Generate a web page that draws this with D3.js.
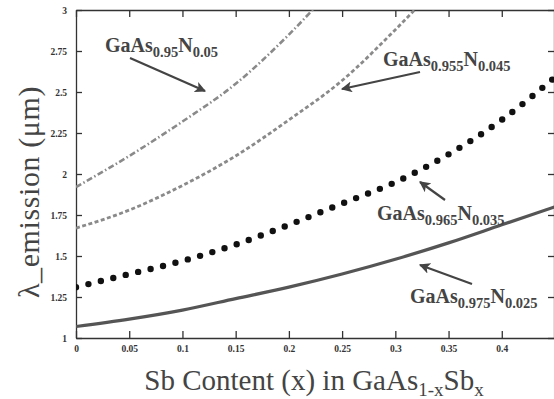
<!DOCTYPE html>
<html>
<head>
<meta charset="utf-8">
<script src="https://cdn.jsdelivr.net/npm/d3@7"></script>
<style>
  body { margin: 0; background: #fff; }
  svg { display: block; }
  .axis path, .axis line { stroke: #333; stroke-width: 1.3; }
  .axis text { font-family: "Liberation Serif", serif; font-size: 9.5px; font-weight: bold; fill: #333; }
</style>
</head>
<body>
<svg id="chart" width="554" height="399"></svg>
<script>
// Sb content (x) and emission wavelength (um)
const sbX      = [0, 0.05, 0.1, 0.15, 0.2, 0.25, 0.3, 0.35, 0.4, 0.45];
const n050     = [1.92, 2.11, 2.32, 2.55, 2.85, 3.2, null, null, null, null];
const n045     = [1.67, 1.78, 1.93, 2.11, 2.33, 2.57, 2.88, 3.22, null, null];
const n035     = [1.31, 1.39, 1.47, 1.57, 1.69, 1.82, 1.95, 2.12, 2.33, 2.59];
const n025     = [1.07, 1.115, 1.17, 1.24, 1.31, 1.39, 1.48, 1.58, 1.69, 1.80];
const xTicks   = [0, 0.05, 0.1, 0.15, 0.2, 0.25, 0.3, 0.35, 0.4];
const yTicks   = [1, 1.25, 1.5, 1.75, 2, 2.25, 2.5, 2.75, 3];
const yTickLabels = ["1", "1.25", "1.5", "1.75", "2", "2.25", "2.5", "2.75", "3"];

const pLeft = 76, pRight = 555, pTop = 10, pBottom = 338;

const svg = d3.select("#chart");
const x = d3.scaleLinear().domain([0, 0.45]).range([pLeft, pRight]);
const y = d3.scaleLinear().domain([1, 3]).range([pBottom, pTop]);

svg.append("defs").append("clipPath").attr("id", "plot")
  .append("rect").attr("x", pLeft).attr("y", pTop)
  .attr("width", pRight - pLeft).attr("height", pBottom - pTop);

// frame with inward ticks on all sides
svg.append("g").attr("class", "axis")
  .attr("transform", `translate(0, ${pBottom})`)
  .call(d3.axisBottom(x).tickValues(xTicks).tickSize(-7).tickPadding(7).tickSizeOuter(0)
    .tickFormat(d => d === 0 ? "0" : d3.format("")(d)));
svg.append("g").attr("class", "axis")
  .attr("transform", `translate(0, ${pTop})`)
  .call(d3.axisTop(x).tickValues(xTicks).tickSize(-7).tickSizeOuter(0).tickFormat(""));
svg.append("g").attr("class", "axis")
  .attr("transform", `translate(${pLeft}, 0)`)
  .call(d3.axisLeft(y).tickValues(yTicks).tickSize(-6).tickPadding(9).tickSizeOuter(0)
    .tickFormat((d, i) => yTickLabels[i]));
svg.append("g").attr("class", "axis")
  .attr("transform", `translate(${pRight - 1}, 0)`)
  .call(d3.axisRight(y).tickValues(yTicks).tickSize(-6).tickSizeOuter(0).tickFormat(""));

const line = d3.line()
  .defined(d => d[1] !== null)
  .x(d => x(d[0])).y(d => y(d[1]))
  .curve(d3.curveMonotoneX);

const plot = svg.append("g").attr("clip-path", "url(#plot)");
const series = [
  { vals: n050, stroke: "#8a8a8a", width: 2.6, dash: "6 2.5 1.5 2.5", cap: "butt" },
  { vals: n045, stroke: "#8a8a8a", width: 2.8, dash: "4 2.5", cap: "butt" },
  { vals: n035, stroke: "#111", width: 6.4, dash: "0 12.8", cap: "round" },
  { vals: n025, stroke: "#555", width: 3.2, dash: null, cap: "butt" }
];
series.forEach(s => {
  plot.append("path")
    .datum(sbX.map((v, i) => [v, s.vals[i]]))
    .attr("d", line)
    .attr("fill", "none")
    .attr("stroke", s.stroke)
    .attr("stroke-width", s.width)
    .attr("stroke-linecap", s.cap)
    .attr("stroke-dasharray", s.dash);
});

// arrows
svg.append("defs").append("marker")
  .attr("id", "head").attr("viewBox", "0 0 10 10")
  .attr("refX", 9).attr("refY", 5)
  .attr("markerWidth", 5).attr("markerHeight", 5)
  .attr("markerUnits", "strokeWidth")
  .attr("orient", "auto")
  .append("path").attr("d", "M0,0 L10,5 L0,10 L2.5,5 Z").attr("fill", "#444");

const arrows = [
  [130, 58, 205, 91],
  [420, 72, 342, 89],
  [445, 200, 420, 182],
  [472, 284, 420, 265]
];
arrows.forEach(a => {
  svg.append("line")
    .attr("x1", a[0]).attr("y1", a[1]).attr("x2", a[2]).attr("y2", a[3])
    .attr("stroke", "#444").attr("stroke-width", 2.2)
    .attr("marker-end", "url(#head)");
});

// curve labels
const labels = [
  { x: 105, y: 52, a: "0.95", b: "0.05" },
  { x: 383, y: 66, a: "0.955", b: "0.045" },
  { x: 377, y: 220, a: "0.965", b: "0.035" },
  { x: 410, y: 303, a: "0.975", b: "0.025" }
];
labels.forEach(l => {
  const t = svg.append("text")
    .attr("x", l.x).attr("y", l.y)
    .attr("font-family", "Liberation Serif, serif")
    .attr("font-weight", "bold").attr("font-size", 20).attr("fill", "#444");
  t.append("tspan").text("GaAs");
  t.append("tspan").attr("font-size", 14.5).attr("dy", 5).text(l.a);
  t.append("tspan").attr("dy", -5).text("N");
  t.append("tspan").attr("font-size", 14.5).attr("dy", 5).text(l.b);
});

// axis titles
const xt = svg.append("text")
  .attr("x", 314).attr("y", 390).attr("text-anchor", "middle")
  .attr("font-family", "Liberation Serif, serif").attr("font-size", 29).attr("fill", "#444");
xt.append("tspan").text("Sb Content (x) in GaAs");
xt.append("tspan").attr("font-size", 19).attr("dy", 6).text("1-x");
xt.append("tspan").attr("dy", -6).text("Sb");
xt.append("tspan").attr("font-size", 19).attr("dy", 6).text("x");

svg.append("text")
  .attr("transform", "translate(39, 192) rotate(-90)")
  .attr("text-anchor", "middle")
  .attr("font-family", "Liberation Serif, serif").attr("font-size", 30)
  .attr("letter-spacing", 0.6).attr("fill", "#444")
  .text("λ_emission (μm)");
</script>
</body>
</html>
